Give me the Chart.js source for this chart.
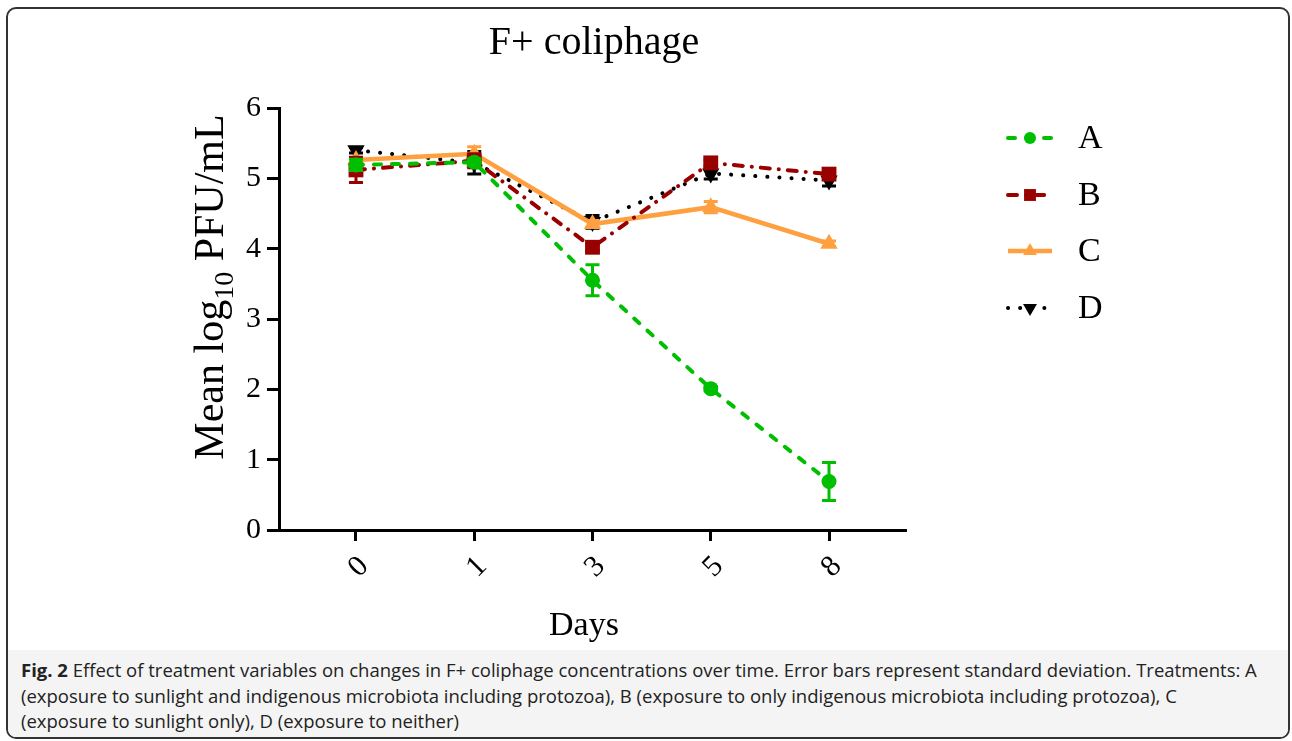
<!DOCTYPE html>
<html>
<head>
<meta charset="utf-8">
<script src="https://cdn.jsdelivr.net/npm/chart.js@4.4.0/dist/chart.umd.min.js"></script>
<style>
  body { margin: 0; width: 1292px; height: 741px; position: relative; background: #fff; overflow: hidden; }
  #frame { position: absolute; left: 6px; top: 7px; width: 1280px; height: 728px; border: 2px solid #333; border-radius: 10px; overflow: hidden; background: #fff; }
  #caption { position: absolute; left: 0; right: 0; bottom: 0; height: 80px; padding: 7px 0 0 13px; background: #f4f4f4;
             font-family: "Open Sans", sans-serif; font-size: 18.5px; line-height: 25.5px; color: #222; white-space: nowrap; }
  #chartBox { position: absolute; left: 0; top: 0; width: 1292px; height: 650px; }
</style>
</head>
<body>
<div id="frame">
  <div id="caption"><b>Fig. 2</b> Effect of treatment variables on changes in F+ coliphage concentrations over time. Error bars represent standard deviation. Treatments: A<br>(exposure to sunlight and indigenous microbiota including protozoa), B (exposure to only indigenous microbiota including protozoa), C<br>(exposure to sunlight only), D (exposure to neither)</div>
</div>
<div id="chartBox"><canvas id="myChart"></canvas></div>
<script>
const days = ['0', '1', '3', '5', '8'];
const seriesNames = ['A', 'B', 'C', 'D'];
const seriesA = [5.19, 5.23, 3.55, 2.01, 0.69];
const seriesB = [5.12, 5.25, 4.02, 5.22, 5.06];
const seriesC = [5.26, 5.35, 4.35, 4.59, 4.07];
const seriesD = [5.40, 5.22, 4.38, 5.07, 4.97];
const errA = [0.08, 0.05, 0.22, 0.03, 0.27];
const errB = [0.18, 0.10, 0.05, 0.04, 0.05];
const errC = [0.03, 0.10, 0.05, 0.08, 0.04];
const errD = [0.04, 0.16, 0.09, 0.08, 0.08];
const yTicks = [0, 1, 2, 3, 4, 5, 6];

const serif = '"Liberation Serif", "Times New Roman", serif';

function toPoints(values) {
    return values.map((v, i) => ({ x: i, y: v }));
}

const errors = [errA, errB, errC, errD];

const errorBars = {
    id: 'errorBars',
    afterDatasetDraw(chart, args) {
        const ds = chart.data.datasets[args.index];
        const err = errors[args.index];
        const meta = args.meta;
        const ctx = chart.ctx;
        const y = chart.scales.y;
        ctx.save();
        ctx.strokeStyle = ds.borderColor;
        ctx.lineWidth = 3;
        ctx.setLineDash([]);
        meta.data.forEach((pt, i) => {
            const v = ds.data[i].y;
            const top = y.getPixelForValue(v + err[i]);
            const bot = y.getPixelForValue(v - err[i]);
            ctx.beginPath();
            ctx.moveTo(pt.x, top); ctx.lineTo(pt.x, bot);
            ctx.moveTo(pt.x - 7, top); ctx.lineTo(pt.x + 7, top);
            ctx.moveTo(pt.x - 7, bot); ctx.lineTo(pt.x + 7, bot);
            ctx.stroke();
        });
        ctx.restore();
    }
};

const textBits = {
    id: 'textBits',
    afterDraw(chart) {
        const ctx = chart.ctx;
        ctx.save();
        ctx.fillStyle = '#000';

        // title
        ctx.font = '40px ' + serif;
        ctx.textAlign = 'center';
        ctx.textBaseline = 'alphabetic';
        ctx.fillText('F+ coliphage', 594, 54);

        // x title
        ctx.font = '34px ' + serif;
        ctx.fillText('Days', 584, 635);

        // y title with subscript
        ctx.save();
        ctx.translate(223, 287);
        ctx.rotate(-Math.PI / 2);
        const parts = [['Mean log', 42, 0], ['10', 28, 10], [' PFU/mL', 42, 0]];
        let total = 0;
        parts.forEach(p => { ctx.font = p[1] + 'px ' + serif; total += ctx.measureText(p[0]).width; });
        let x = -total / 2;
        ctx.textAlign = 'left';
        parts.forEach(p => {
            ctx.font = p[1] + 'px ' + serif;
            ctx.fillText(p[0], x, p[2]);
            x += ctx.measureText(p[0]).width;
        });
        ctx.restore();

        // legend
        const rowY = [138, 195, 251, 308];
        chart.data.datasets.forEach((ds, i) => {
            const yy = rowY[i];
            ctx.save();
            ctx.strokeStyle = ds.borderColor;
            ctx.lineWidth = ds.borderWidth;
            ctx.lineCap = ds.borderCapStyle || 'butt';
            ctx.setLineDash(ds.borderDash || []);
            ctx.beginPath();
            ctx.moveTo(1008, yy); ctx.lineTo(1052, yy);
            ctx.stroke();
            ctx.setLineDash([]);
            ctx.fillStyle = ds.backgroundColor;
            Chart.helpers.drawPoint(ctx, {
                pointStyle: ds.pointStyle,
                radius: ds.pointRadius * 0.8,
                rotation: ds.pointRotation || 0,
                borderWidth: 0
            }, 1030, yy);
            ctx.restore();
            ctx.font = '34px ' + serif;
            ctx.textAlign = 'left';
            ctx.textBaseline = 'middle';
            ctx.fillText(seriesNames[i], 1078, yy + 1);
        });
        ctx.restore();
    }
};

const ctx = document.getElementById('myChart').getContext('2d');
const myChart = new Chart(ctx, {
    type: 'line',
    data: {
        datasets: [
            {
                label: 'A', data: toPoints(seriesA),
                borderColor: '#00bf00', backgroundColor: '#00bf00',
                borderWidth: 4, borderDash: [7, 11], borderCapStyle: 'round',
                pointStyle: 'circle', pointRadius: 7.5, pointBorderWidth: 0
            },
            {
                label: 'B', data: toPoints(seriesB),
                borderColor: '#990000', backgroundColor: '#990000',
                borderWidth: 4, borderDash: [9, 9, 0.1, 9], borderCapStyle: 'round',
                pointStyle: 'rect', pointRadius: 10.5, pointBorderWidth: 0
            },
            {
                label: 'C', data: toPoints(seriesC),
                borderColor: '#ffa040', backgroundColor: '#ffa040',
                borderWidth: 4.5,
                pointStyle: 'triangle', pointRadius: 10, pointBorderWidth: 0
            },
            {
                label: 'D', data: toPoints(seriesD),
                borderColor: '#000000', backgroundColor: '#000000',
                borderWidth: 4, borderDash: [0.1, 12], borderCapStyle: 'round',
                pointStyle: 'triangle', pointRotation: 180, pointRadius: 10, pointBorderWidth: 0
            }
        ]
    },
    options: {
        responsive: true,
        maintainAspectRatio: false,
        animation: false,
        layout: { padding: { left: 0, right: 386, top: 108, bottom: 0 } },
        plugins: {
            legend: { display: false },
            tooltip: { enabled: false }
        },
        scales: {
            x: {
                type: 'linear',
                min: -0.651,
                max: 4.651,
                afterBuildTicks: scale => { scale.ticks = days.map((d, i) => ({ value: i })); },
                afterFit: scale => { scale.height = 120; },
                border: { display: true, color: '#000', width: 3 },
                grid: { display: true, drawOnChartArea: false, drawTicks: true, tickLength: 11, tickWidth: 3, tickColor: '#000' },
                ticks: {
                    autoSkip: false,
                    minRotation: 45, maxRotation: 45,
                    padding: 8,
                    labelOffset: 8,
                    color: '#000',
                    font: { family: serif, size: 30 },
                    callback: value => days[value]
                }
            },
            y: {
                min: 0,
                max: 6,
                afterBuildTicks: scale => { scale.ticks = yTicks.map(v => ({ value: v })); },
                afterFit: scale => { scale.width = 279; },
                border: { display: true, color: '#000', width: 3 },
                grid: { display: true, drawOnChartArea: false, drawTicks: true, tickLength: 12, tickWidth: 3, tickColor: '#000' },
                ticks: {
                    padding: 6,
                    color: '#000',
                    font: { family: serif, size: 30 }
                }
            }
        }
    },
    plugins: [errorBars, textBits]
});
</script>
</body>
</html>
